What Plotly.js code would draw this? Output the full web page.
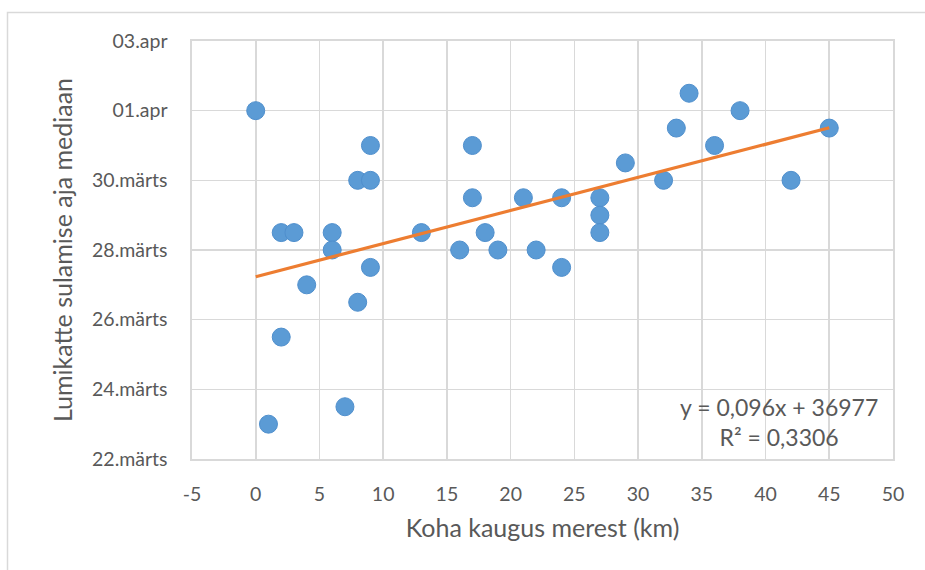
<!DOCTYPE html>
<html>
<head>
<meta charset="utf-8">
<script src="https://cdn.plot.ly/plotly-3.0.1.min.js"></script>
<style>html,body{margin:0;padding:0;background:#fff;}</style>
</head>
<body>
<div id="chart" style="width:925px;height:570px;"></div>
<script>
// Distance from sea (km)
const distanceKm = [0, 1, 2, 2, 3, 4, 6, 6, 7, 8, 8, 9, 9, 9, 13, 16, 17, 17, 18, 19, 21, 22, 24, 24, 27, 27, 27, 29, 32, 33, 34, 36, 38, 42, 45];
// Median snow-melt date, as day of March (32 = 01.apr)
const meltDay = [32, 23, 28.5, 25.5, 28.5, 27, 28.5, 28, 23.5, 30, 26.5, 31, 30, 27.5, 28.5, 28, 31, 29.5, 28.5, 28, 29.5, 28, 29.5, 27.5, 29.5, 29, 28.5, 30.5, 30, 31.5, 32.5, 31, 32, 30, 31.5];
const xTickVals = [-5, 0, 5, 10, 15, 20, 25, 30, 35, 40, 45, 50];
const xTickText = ["-5", "0", "5", "10", "15", "20", "25", "30", "35", "40", "45", "50"];
const yTickVals = [22, 24, 26, 28, 30, 32, 34];
const yTickText = ["22.märts", "24.märts", "26.märts", "28.märts", "30.märts", "01.apr", "03.apr"];
const trendLabel = "y = 0,096x + 36977<br>R² = 0,3306";

// linear regression for the trendline
const n = distanceKm.length;
let sx = 0, sy = 0, sxx = 0, sxy = 0;
for (let i = 0; i < n; i++) { sx += distanceKm[i]; sy += meltDay[i]; sxx += distanceKm[i] * distanceKm[i]; sxy += distanceKm[i] * meltDay[i]; }
const slope = (n * sxy - sx * sy) / (n * sxx - sx * sx);
const intercept = (sy - slope * sx) / n;
const xMin = Math.min(...distanceKm), xMax = Math.max(...distanceKm);

const gridColor = '#d9d9d9';
const textColor = '#595959';
const fontFam = 'Lato, "Open Sans", sans-serif';

const traces = [
  {
    x: distanceKm, y: meltDay, type: 'scatter', mode: 'markers',
    marker: {size: 18, color: '#5b9bd5', line: {color: '#4f8fcd', width: 1}},
    hoverinfo: 'x+y', showlegend: false
  },
  {
    x: [xMin, xMax], y: [intercept + slope * xMin, intercept + slope * xMax],
    type: 'scatter', mode: 'lines', line: {color: '#ed7d31', width: 3.2},
    showlegend: false, hoverinfo: 'skip'
  }
];

const L = 192, R = 893, T = 41, B = 459;
const pw = R - L, ph = B - T;
const px = v => (v - L) / pw;
const py = v => (B - v) / ph;

const layout = {
  width: 925, height: 570,
  margin: {l: L, r: 925 - R, t: T, b: 570 - B, pad: 0},
  paper_bgcolor: '#fff', plot_bgcolor: '#fff',
  font: {family: fontFam, color: textColor, size: 19.5},
  xaxis: {
    range: [-5, 50], tickvals: xTickVals, ticktext: xTickText,
    showgrid: true, gridcolor: gridColor, gridwidth: 1.6,
    showline: true, linecolor: gridColor, linewidth: 1.6, mirror: true,
    zeroline: false, ticks: '', ticklen: 0, ticklabelstandoff: 17,
    tickfont: {size: 19.5, color: textColor, family: fontFam},
    title: {text: 'Koha kaugus merest (km)', font: {size: 25, color: textColor, family: fontFam}, standoff: 15}
  },
  yaxis: {
    range: [22, 34], tickvals: yTickVals, ticktext: yTickText,
    showgrid: true, gridcolor: gridColor, gridwidth: 1.6,
    showline: true, linecolor: gridColor, linewidth: 1.6, mirror: true,
    zeroline: false, ticks: '', ticklen: 0, ticklabelstandoff: 19,
    tickfont: {size: 19.5, color: textColor, family: fontFam},
    title: {text: 'Lumikatte sulamise aja mediaan', font: {size: 25, color: textColor, family: fontFam}, standoff: 12}
  },
  annotations: [{
    xref: 'paper', yref: 'paper', x: px(779), y: py(422),
    xanchor: 'center', yanchor: 'middle', align: 'center',
    text: trendLabel, showarrow: false,
    font: {size: 23, color: textColor, family: fontFam}
  }],
  shapes: [{
    type: 'rect', xref: 'paper', yref: 'paper',
    x0: px(7.5), x1: px(926), y0: py(572), y1: py(12.5),
    line: {color: gridColor, width: 1.5}, layer: 'below'
  }]
};

Plotly.newPlot('chart', traces, layout, {displayModeBar: false, staticPlot: true});
</script>
</body>
</html>
